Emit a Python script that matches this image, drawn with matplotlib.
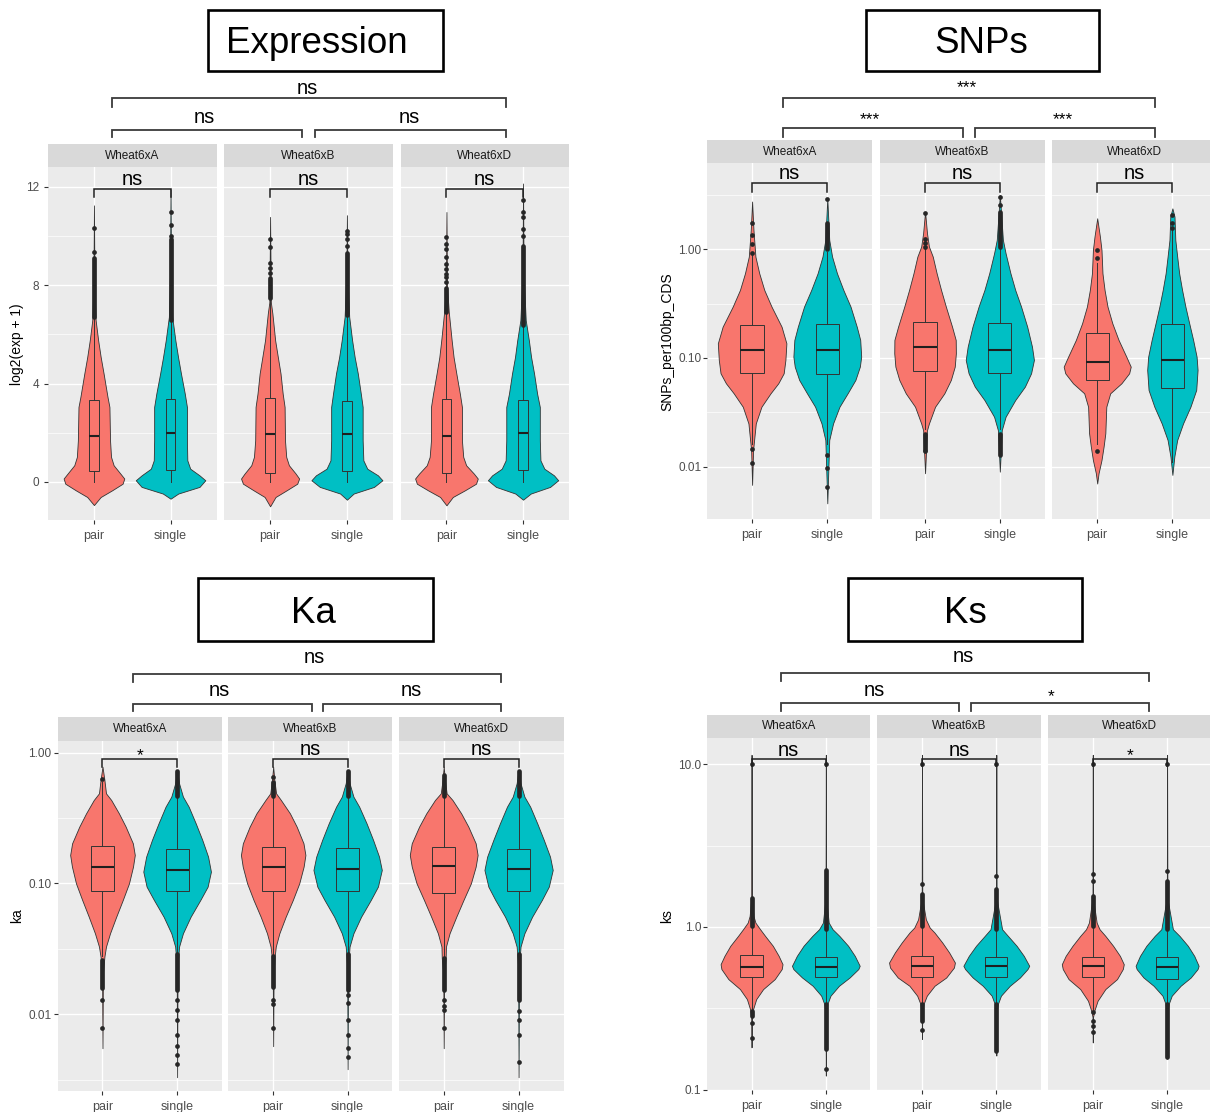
import numpy as np
import matplotlib
matplotlib.use("Agg")
import matplotlib.pyplot as plt
from matplotlib.patches import Rectangle
from matplotlib.ticker import NullFormatter, FixedLocator, FixedFormatter
from matplotlib.transforms import blended_transform_factory

plt.rcParams['font.family'] = ['Liberation Sans', 'DejaVu Sans']

# ---------------------------------------------------------------- data
facets = ["Wheat6xA", "Wheat6xB", "Wheat6xD"]
groups = ["pair", "single"]
group_colors = {"pair": "#F8766D", "single": "#00BFC4"}

# ---- Expression : log2(exp + 1)
expr_violin_y = {
    "pair": [
        [-0.94, -0.61, -0.34, -0.07, 0.14, 0.34, 0.68, 1.02, 1.69, 3.05, 3.46, 4.41, 5.08, 5.76, 6.58, 8.0, 11.25],
        [-0.99, -0.61, -0.34, -0.07, 0.14, 0.34, 0.68, 1.02, 1.69, 3.05, 3.59, 4.41, 5.08, 5.76, 6.85, 7.3, 10.78],
        [-0.95, -0.61, -0.34, -0.07, 0.14, 0.34, 0.68, 1.02, 1.69, 3.05, 3.59, 4.41, 5.08, 5.76, 6.92, 8.0, 10.98]],
    "single": [
        [-0.68, -0.47, -0.2, 0.07, 0.27, 0.54, 0.88, 1.69, 3.05, 3.59, 4.41, 5.08, 5.76, 6.71, 8.5, 11.9],
        [-0.72, -0.47, -0.2, 0.07, 0.27, 0.54, 0.88, 1.69, 3.05, 3.59, 4.41, 5.08, 5.76, 6.71, 8.5, 10.85],
        [-0.72, -0.47, -0.2, 0.07, 0.27, 0.54, 0.88, 1.69, 3.05, 3.59, 4.41, 5.08, 5.76, 6.58, 8.5, 12.14]]}
expr_violin_w = {
    "pair": [
        [0, .088, .236, .374, .396, .345, .257, .223, .210, .202, .177, .126, .088, .055, .022, .007, 0],
        [0, .071, .214, .353, .378, .333, .245, .210, .194, .189, .164, .136, .101, .066, .030, .010, 0],
        [0, .083, .240, .386, .409, .358, .257, .219, .202, .202, .175, .129, .093, .068, .030, .007, 0]],
    "single": [
        [0, .101, .378, .454, .378, .257, .219, .214, .214, .186, .136, .098, .063, .022, .007, 0],
        [0, .088, .353, .462, .404, .265, .214, .205, .205, .181, .142, .101, .068, .030, .007, 0],
        [0, .101, .353, .459, .404, .278, .227, .219, .219, .184, .144, .105, .076, .035, .007, 0]]}
# [whisker low, Q1, median, Q3, whisker high]
expr_box = {
    "pair": [[0.0, 0.43, 1.87, 3.35, 6.7], [0.0, 0.38, 1.97, 3.42, 7.5], [0.0, 0.38, 1.87, 3.39, 6.9]],
    "single": [[0.0, 0.50, 1.99, 3.39, 6.6], [0.0, 0.43, 1.97, 3.29, 6.8], [0.0, 0.50, 1.99, 3.35, 6.4]]}
expr_out_dense = {
    "pair": [[(6.7, 9.1)], [(7.5, 8.3)], [(6.9, 7.9)]],
    "single": [[(6.6, 9.9)], [(6.8, 9.3)], [(6.4, 9.6)]]}
expr_out_sparse = {
    "pair": [[9.36, 10.31], [8.5, 8.7, 8.9, 9.56, 9.87],
             [8.14, 8.34, 8.47, 8.68, 8.88, 9.15, 9.49, 9.67, 9.97]],
    "single": [[10.0, 10.44, 10.98], [9.6, 9.9, 10.1, 10.2], [10.0, 10.3, 10.78, 10.98, 11.46]]}
expr_sig_overall = "ns"
expr_sig_between = ["ns", "ns"]
expr_sig_within = ["ns", "ns", "ns"]

# ---- SNPs : SNPs_per100bp_CDS (log10 axis)
snp_violin_y = {
    "pair": [
        [0.0068, 0.0142, 0.025, 0.0356, 0.0473, 0.0585, 0.0723, 0.0959, 0.1364, 0.194, 0.297, 0.422, 0.601, 0.856, 1.506, 2.75],
        [0.0087, 0.0217, 0.025, 0.0356, 0.0473, 0.0628, 0.0832, 0.1104, 0.1465, 0.194, 0.297, 0.422, 0.601, 0.856, 1.058, 1.403, 2.22],
        [0.0070, 0.0087, 0.0115, 0.0153, 0.0203, 0.0356, 0.0473, 0.0585, 0.0723, 0.0832, 0.1028, 0.1465, 0.2084, 0.297, 0.422, 0.601, 0.986, 1.308, 1.928]],
    "single": [
        [0.0046, 0.0176, 0.025, 0.0356, 0.0473, 0.0628, 0.0832, 0.1028, 0.1465, 0.194, 0.297, 0.422, 0.601, 0.856, 1.219, 2.95],
        [0.0090, 0.0217, 0.0288, 0.0410, 0.0545, 0.0723, 0.0959, 0.1271, 0.194, 0.297, 0.422, 0.601, 0.919, 1.219, 3.16],
        [0.0084, 0.0124, 0.0176, 0.025, 0.0356, 0.0508, 0.0776, 0.1028, 0.1465, 0.2084, 0.297, 0.422, 0.601, 0.856, 1.219, 1.998, 2.38]]}
snp_violin_w = {
    "pair": [
        [0, 0.013, 0.049, 0.124, 0.245, 0.348, 0.42, 0.443, 0.456, 0.392, 0.258, 0.162, 0.095, 0.044, 0.018, 0],
        [0, 0.026, 0.052, 0.134, 0.258, 0.345, 0.397, 0.412, 0.41, 0.361, 0.278, 0.214, 0.155, 0.103, 0.052, 0.026, 0],
        [0, 0.018, 0.057, 0.085, 0.108, 0.121, 0.173, 0.322, 0.425, 0.446, 0.387, 0.284, 0.201, 0.137, 0.098, 0.07, 0.057, 0.036, 0]],
    "single": [
        [0, 0.026, 0.077, 0.162, 0.27, 0.374, 0.433, 0.451, 0.438, 0.392, 0.309, 0.214, 0.129, 0.064, 0.026, 0],
        [0, 0.026, 0.077, 0.206, 0.335, 0.418, 0.456, 0.43, 0.366, 0.284, 0.206, 0.142, 0.077, 0.041, 0],
        [0, 0.026, 0.064, 0.142, 0.24, 0.317, 0.335, 0.322, 0.276, 0.224, 0.173, 0.129, 0.09, 0.064, 0.039, 0.028, 0]]}
snp_box = {
    "pair": [[0.016, 0.072, 0.119, 0.200, 0.90], [0.022, 0.076, 0.125, 0.213, 1.0], [0.016, 0.063, 0.0925, 0.169, 0.75]],
    "single": [[0.016, 0.071, 0.119, 0.204, 0.95], [0.022, 0.0733, 0.119, 0.211, 1.0], [0.011, 0.0527, 0.096, 0.204, 1.5]]}
snp_out_dense = {
    "pair": [[], [(0.0143, 0.020)], []],
    "single": [[(1.0, 1.73)], [(1.06, 2.22), (0.0128, 0.020)], []]}
snp_out_sparse = {
    "pair": [[0.93, 1.12, 1.34, 1.73, 0.0107, 0.0145], [1.05, 1.15, 1.25, 2.17, 0.0138], [0.84, 0.98, 0.0138]],
    "single": [[2.93, 0.0065, 0.0098, 0.0128], [2.56, 3.01], [1.56, 1.75, 2.07]]}
snp_sig_overall = "***"
snp_sig_between = ["***", "***"]
snp_sig_within = ["ns", "ns", "ns"]

# ---- Ka (log10 axis)
ka_violin_y = {
    "pair": [
        [0.0055, 0.0206, 0.0276, 0.0329, 0.0416, 0.0557, 0.0748, 0.1002, 0.1345, 0.1651, 0.2028, 0.2718, 0.3437, 0.4346, 0.489, 0.618, 0.782],
        [0.0057, 0.0206, 0.0276, 0.0329, 0.0416, 0.0557, 0.0748, 0.1002, 0.1345, 0.1651, 0.2028, 0.2718, 0.3437, 0.4346, 0.489, 0.618, 0.782],
        [0.0055, 0.0206, 0.0268, 0.0329, 0.0416, 0.0557, 0.0748, 0.1002, 0.1345, 0.1651, 0.2028, 0.2718, 0.3437, 0.4346, 0.489, 0.618, 0.782]],
    "single": [
        [0.0033, 0.0231, 0.0329, 0.0416, 0.0557, 0.0748, 0.0946, 0.1231, 0.1603, 0.2153, 0.2884, 0.3864, 0.461, 0.583, 0.738],
        [0.0038, 0.0231, 0.0329, 0.0416, 0.0557, 0.0748, 0.0946, 0.1268, 0.1603, 0.2153, 0.2884, 0.3864, 0.461, 0.583, 0.738],
        [0.0033, 0.0231, 0.0329, 0.0416, 0.0557, 0.0748, 0.0946, 0.1268, 0.1603, 0.2153, 0.2884, 0.3864, 0.461, 0.583, 0.738]]}
ka_violin_w = {
    "pair": [
        [0, 0.006, 0.026, 0.047, 0.101, 0.184, 0.272, 0.355, 0.409, 0.433, 0.407, 0.311, 0.22, 0.117, 0.047, 0.026, 0],
        [0, 0.006, 0.02, 0.035, 0.083, 0.168, 0.264, 0.35, 0.409, 0.433, 0.407, 0.316, 0.225, 0.104, 0.039, 0.016, 0],
        [0, 0.006, 0.026, 0.03, 0.078, 0.168, 0.264, 0.363, 0.427, 0.453, 0.427, 0.329, 0.233, 0.117, 0.039, 0.016, 0]],
    "single": [
        [0, 0.006, 0.026, 0.078, 0.181, 0.311, 0.409, 0.453, 0.415, 0.337, 0.249, 0.155, 0.078, 0.026, 0],
        [0, 0.006, 0.026, 0.078, 0.181, 0.311, 0.407, 0.459, 0.422, 0.342, 0.254, 0.155, 0.078, 0.026, 0],
        [0, 0.006, 0.026, 0.078, 0.181, 0.311, 0.404, 0.456, 0.42, 0.337, 0.249, 0.155, 0.078, 0.026, 0]]}
ka_box = {
    "pair": [[0.028, 0.087, 0.134, 0.194, 0.60], [0.028, 0.087, 0.134, 0.191, 0.45], [0.027, 0.085, 0.137, 0.191, 0.45]],
    "single": [[0.029, 0.087, 0.127, 0.182, 0.45], [0.029, 0.087, 0.128, 0.186, 0.45], [0.029, 0.087, 0.128, 0.184, 0.45]]}
ka_out_dense = {
    "pair": [[(0.016, 0.026)], [(0.47, 0.60), (0.0163, 0.028)], [(0.47, 0.675), (0.0153, 0.027)]],
    "single": [[(0.47, 0.72), (0.0153, 0.029)], [(0.47, 0.72), (0.0153, 0.029)], [(0.47, 0.72), (0.0129, 0.029)]]}
ka_out_sparse = {
    "pair": [[0.63, 0.0129, 0.0078], [0.648, 0.0129, 0.012, 0.0078], [0.0129, 0.0115, 0.0108, 0.0078]],
    "single": [[0.0129, 0.0108, 0.0091, 0.0070, 0.0057, 0.0049, 0.0042],
               [0.0141, 0.0121, 0.0091, 0.0070, 0.0055, 0.0047],
               [0.0105, 0.0091, 0.0069, 0.0043]]}
ka_sig_overall = "ns"
ka_sig_between = ["ns", "ns"]
ka_sig_within = ["*", "ns", "ns"]

# ---- Ks (log10 axis)
ks_violin_y = {
    "pair": [
        [0.182, 0.28, 0.313, 0.360, 0.415, 0.478, 0.551, 0.590, 0.664, 0.766, 0.881, 0.968, 1.063, 1.168, 1.5, 11.43],
        [0.205, 0.30, 0.336, 0.378, 0.435, 0.489, 0.563, 0.604, 0.697, 0.802, 0.923, 0.991, 1.114, 1.5, 11.43],
        [0.195, 0.28, 0.306, 0.352, 0.415, 0.478, 0.551, 0.590, 0.664, 0.766, 0.881, 0.968, 1.063, 1.5, 11.43]],
    "single": [
        [0.122, 0.30, 0.336, 0.378, 0.435, 0.489, 0.551, 0.577, 0.664, 0.766, 0.881, 0.968, 1.063, 1.5, 11.43],
        [0.162, 0.30, 0.336, 0.378, 0.435, 0.489, 0.551, 0.577, 0.664, 0.766, 0.881, 0.968, 1.5, 11.43],
        [0.155, 0.30, 0.336, 0.378, 0.435, 0.489, 0.551, 0.577, 0.664, 0.766, 0.881, 0.968, 1.5, 11.43]]}
ks_violin_w = {
    "pair": [
        [0, 0.004, 0.021, 0.0625, 0.156, 0.3125, 0.406, 0.417, 0.365, 0.286, 0.182, 0.115, 0.052, 0.026, 0.004, 0],
        [0, 0.004, 0.021, 0.065, 0.169, 0.326, 0.43, 0.443, 0.365, 0.273, 0.169, 0.104, 0.052, 0.004, 0],
        [0, 0.004, 0.021, 0.065, 0.169, 0.326, 0.404, 0.417, 0.365, 0.273, 0.169, 0.091, 0.052, 0.004, 0]],
    "single": [
        [0, 0.004, 0.021, 0.0625, 0.177, 0.32, 0.4375, 0.456, 0.39, 0.30, 0.182, 0.091, 0.039, 0.004, 0],
        [0, 0.004, 0.021, 0.0625, 0.182, 0.318, 0.42, 0.443, 0.37, 0.273, 0.156, 0.078, 0.004, 0],
        [0, 0.004, 0.021, 0.0625, 0.182, 0.318, 0.41, 0.424, 0.365, 0.279, 0.167, 0.078, 0.004, 0]]}
ks_box = {
    "pair": [[0.313, 0.494, 0.571, 0.670, 1.0], [0.31, 0.49, 0.577, 0.665, 1.0], [0.31, 0.49, 0.577, 0.658, 1.0]],
    "single": [[0.31, 0.49, 0.569, 0.655, 0.97], [0.31, 0.49, 0.577, 0.655, 0.97], [0.31, 0.482, 0.569, 0.649, 0.97]]}
ks_out_dense = {
    "pair": [[(1.01, 1.51), (0.285, 0.306)], [(1.01, 1.59), (0.266, 0.336)], [(1.01, 1.55)]],
    "single": [[(0.97, 2.25), (0.178, 0.336)], [(0.97, 1.70), (0.174, 0.336)], [(0.97, 1.91), (0.158, 0.336)]]}
ks_out_sparse = {
    "pair": [[10.0, 0.257, 0.207], [1.83, 10.0, 0.231], [1.91, 2.13, 10.0, 0.299, 0.265, 0.247, 0.225]],
    "single": [[10.0, 0.134], [2.05, 10.0], [2.2, 10.0]]}
ks_sig_overall = "ns"
ks_sig_between = ["ns", "*"]
ks_sig_within = ["ns", "ns", "*"]

# axis ticks
expr_yticks, expr_yticklabels, expr_yminor = [0, 4, 8, 12], ["0", "4", "8", "12"], [2, 6, 10]
snp_yticks, snp_yticklabels = [0.01, 0.1, 1.0], ["0.01", "0.10", "1.00"]
snp_yminor = [10 ** -1.5, 10 ** -0.5, 10 ** 0.5]
ka_yticks, ka_yticklabels = [0.01, 0.1, 1.0], ["0.01", "0.10", "1.00"]
ka_yminor = [10 ** -2.5, 10 ** -1.5, 10 ** -0.5]
ks_yticks, ks_yticklabels = [0.1, 1.0, 10.0], ["0.1", "1.0", "10.0"]
ks_yminor = [10 ** -0.5, 10 ** 0.5]

# ---------------------------------------------------------------- layout (pixels)
W, H = 1210, 1112
panels = [
    dict(title="Expression", ylabel="log2(exp + 1)", log=False,
         vy=expr_violin_y, vw=expr_violin_w, box=expr_box, dense=expr_out_dense, sparse=expr_out_sparse,
         overall=expr_sig_overall, between=expr_sig_between, within=expr_sig_within,
         yticks=expr_yticks, yticklabels=expr_yticklabels, yminor=expr_yminor,
         ylim=(-1.546, 12.81), facet_x=[(48, 216.5), (224, 393), (400.5, 569)],
         strip=(144, 167), bottom=520, box_w=0.12, ypad=3.3,
         tbox=(208, 10, 443, 71), ttext=(317, 53.3), ylab_xy=(17, 344),
         top=(111.5, 505.5, 98.3, 107, 307.7, 89.1),
         mid=[(111.5, 302, 130, 137.3, 204, 117.5), (315, 505.5, 130, 137.3, 409.6, 117.5)],
         inner=(189.3, 197.3, 179.8)),
    dict(title="SNPs", ylabel="SNPs_per100bp_CDS", log=True,
         vy=snp_violin_y, vw=snp_violin_w, box=snp_box, dense=snp_out_dense, sparse=snp_out_sparse,
         overall=snp_sig_overall, between=snp_sig_between, within=snp_sig_within,
         yticks=snp_yticks, yticklabels=snp_yticklabels, yminor=snp_yminor,
         ylim=(0.00328, 6.18), facet_x=[(707, 872.4), (880.2, 1044.7), (1052.1, 1217.5)],
         strip=(140, 163.3), bottom=519.3, box_w=0.31, ypad=1.2,
         tbox=(866, 10, 1099, 71), ttext=(981.5, 53.3), ylab_xy=(667, 342),
         top=(782.9, 1154.5, 98.3, 106.7, 966.5, 81.7),
         mid=[(782.9, 962.6, 128.3, 136.7, 869.6, 114), (974.7, 1154.5, 128.3, 136.7, 1063, 114)],
         inner=(182.7, 191.7, 174.1)),
    dict(title="Ka", ylabel="ka", log=True,
         vy=ka_violin_y, vw=ka_violin_w, box=ka_box, dense=ka_out_dense, sparse=ka_out_sparse,
         overall=ka_sig_overall, between=ka_sig_between, within=ka_sig_within,
         yticks=ka_yticks, yticklabels=ka_yticklabels, yminor=ka_yminor,
         ylim=(0.00259, 1.235), facet_x=[(57.7, 221.9), (228.5, 392.3), (398.8, 563.5)],
         strip=(717.3, 740.7), bottom=1091, box_w=0.31, ypad=1.5,
         tbox=(198, 578, 433, 641), ttext=(313.5, 622.7), ylab_xy=(17, 916),
         top=(132.7, 500.8, 674, 681.7, 314.6, 658.1),
         mid=[(132.7, 311.5, 704, 710.7, 219.2, 690.8), (323, 500.8, 704, 710.7, 411.5, 690.8)],
         inner=(759.3, 766.7, 749.8)),
    dict(title="Ks", ylabel="ks", log=True,
         vy=ks_violin_y, vw=ks_violin_w, box=ks_box, dense=ks_out_dense, sparse=ks_out_sparse,
         overall=ks_sig_overall, between=ks_sig_between, within=ks_sig_within,
         yticks=ks_yticks, yticklabels=ks_yticklabels, yminor=ks_yminor,
         ylim=(0.0995, 14.56), facet_x=[(707, 870.4), (877.4, 1040.9), (1048.2, 1211.7)],
         strip=(715, 737.7), bottom=1090, box_w=0.3, ypad=1.2,
         tbox=(848, 578, 1082, 641), ttext=(965, 623.3), ylab_xy=(667, 916),
         top=(781.3, 1149.4, 673.3, 680.7, 963.4, 657.1),
         mid=[(781.3, 959.1, 703.3, 710.7, 874.3, 690.8), (970.8, 1149.4, 703.3, 710.7, 1051.4, 690.7)],
         inner=(759.3, 765.5, 750.5)),
]

NS_SIZE, STAR_SIZE = 14.5, 12.5
PT2PX = 100 / 72.0
LINE_C = '#333333'
PT_C = '#262626'

fig = plt.figure(figsize=(W / 100, H / 100), dpi=100)
fig.patch.set_facecolor('white')


def px_axes(x0, y0, x1, y1, **kw):
    return fig.add_axes([x0 / W, 1 - y1 / H, (x1 - x0) / W, (y1 - y0) / H], **kw)


ov = fig.add_axes([0, 0, 1, 1], zorder=20)
ov.set_xlim(0, W)
ov.set_ylim(H, 0)
ov.axis('off')
ov.patch.set_alpha(0)


def sig_text(ax, x, ycenter, label, transform=None):
    if '*' in label:
        size = STAR_SIZE
        base = ycenter + 0.575 * size * PT2PX
    else:
        size = NS_SIZE
        base = ycenter + 0.26 * size * PT2PX
    kw = dict(ha='center', va='baseline', fontsize=size, color='black')
    if transform is not None:
        kw['transform'] = transform
        kw['clip_on'] = False
    ax.text(x, base, label, **kw)


for P in panels:
    # title box
    x0, y0, x1, y1 = P['tbox']
    ov.add_patch(Rectangle((x0, y0), x1 - x0, y1 - y0, fill=False, lw=1.9, edgecolor='black'))
    ov.text(P['ttext'][0], P['ttext'][1], P['title'], ha='center', va='baseline', fontsize=26.5, color='black')
    # between-facet brackets
    bx0, bx1, byl, byt, tx, ty = P['top']
    ov.plot([bx0, bx0, bx1, bx1], [byt, byl, byl, byt], color='#3a3a3a', lw=1.3, solid_joinstyle='miter')
    sig_text(ov, tx, ty, P['overall'])
    for (mx0, mx1, myl, myt, mtx, mty), lab in zip(P['mid'], P['between']):
        ov.plot([mx0, mx0, mx1, mx1], [myt, myl, myl, myt], color='#3a3a3a', lw=1.3, solid_joinstyle='miter')
        sig_text(ov, mtx, mty, lab)
    # y label
    ov.text(P['ylab_xy'][0], P['ylab_xy'][1], P['ylabel'], rotation=90, ha='center', va='center',
            fontsize=10, color='black')

    st0, st1 = P['strip']
    for fi, (fx0, fx1) in enumerate(P['facet_x']):
        # strip
        sax = px_axes(fx0, st0, fx1, st1)
        sax.set_facecolor('#D9D9D9')
        sax.set_xticks([]); sax.set_yticks([])
        for s in sax.spines.values():
            s.set_visible(False)
        sax.text(0.5, 0.5, facets[fi], transform=sax.transAxes, ha='center', va='center',
                 fontsize=8.5, color='#1A1A1A')
        # panel
        ax = px_axes(fx0, st1, fx1, P['bottom'])
        ax.set_facecolor('#EBEBEB')
        for s in ax.spines.values():
            s.set_visible(False)
        if P['log']:
            ax.set_yscale('log')
        ax.set_xlim(0.4, 2.6)
        ax.set_ylim(*P['ylim'])
        ax.yaxis.set_major_locator(FixedLocator(P['yticks']))
        ax.yaxis.set_major_formatter(FixedFormatter(P['yticklabels']))
        ax.yaxis.set_minor_locator(FixedLocator(P['yminor']))
        ax.yaxis.set_minor_formatter(NullFormatter())
        ax.set_xticks([1, 2])
        ax.set_xticklabels(groups)
        ax.grid(True, which='major', color='white', lw=1.0)
        ax.grid(True, which='minor', axis='y', color='white', lw=0.5)
        ax.set_axisbelow(True)
        ax.tick_params(which='major', direction='out', length=2.9, width=0.8, color=LINE_C,
                       labelcolor='#4D4D4D')
        ax.tick_params(axis='y', labelsize=8.5, pad=P['ypad'])
        ax.tick_params(axis='x', labelsize=9, pad=4.0)
        ax.tick_params(which='minor', length=0)
        if fi > 0:
            ax.tick_params(axis='y', left=False, labelleft=False)

        for gi, g in enumerate(groups):
            x = gi + 1
            col = group_colors[g]
            yv = np.asarray(P['vy'][g][fi], dtype=float)
            wv = np.asarray(P['vw'][g][fi], dtype=float)
            ax.fill_betweenx(yv, x - wv, x + wv, facecolor=col, edgecolor=LINE_C, lw=0.6, zorder=2)
            s = P['box'][g][fi]
            ax.bxp([dict(whislo=s[0], q1=s[1], med=s[2], q3=s[3], whishi=s[4], fliers=[])],
                   positions=[x], widths=P['box_w'], patch_artist=True, showcaps=False,
                   showfliers=False, manage_ticks=False, zorder=3,
                   boxprops=dict(facecolor=col, edgecolor=LINE_C, lw=0.7),
                   medianprops=dict(color='#1f1f1f', lw=1.5),
                   whiskerprops=dict(color=LINE_C, lw=0.7))
            for lo, hi in P['dense'][g][fi]:
                ax.plot([x, x], [lo, hi], color=PT_C, lw=3.4, solid_capstyle='round', zorder=4)
            sp = P['sparse'][g][fi]
            ax.plot([x] * len(sp), sp, 'o', ms=3.4, color=PT_C, mec='none', zorder=4)

        # within-facet bracket
        yl, yt, ytx = P['inner']
        tr = blended_transform_factory(ax.transData, ov.transData)
        ax.plot([1, 1, 2, 2], [yt, yl, yl, yt], color='#1f1f1f', lw=1.1, transform=tr,
                clip_on=False, zorder=5, solid_joinstyle='miter')
        sig_text(ax, 1.5, ytx, P['within'][fi], transform=tr)

fig.savefig("out.png", dpi=100, facecolor='white')
